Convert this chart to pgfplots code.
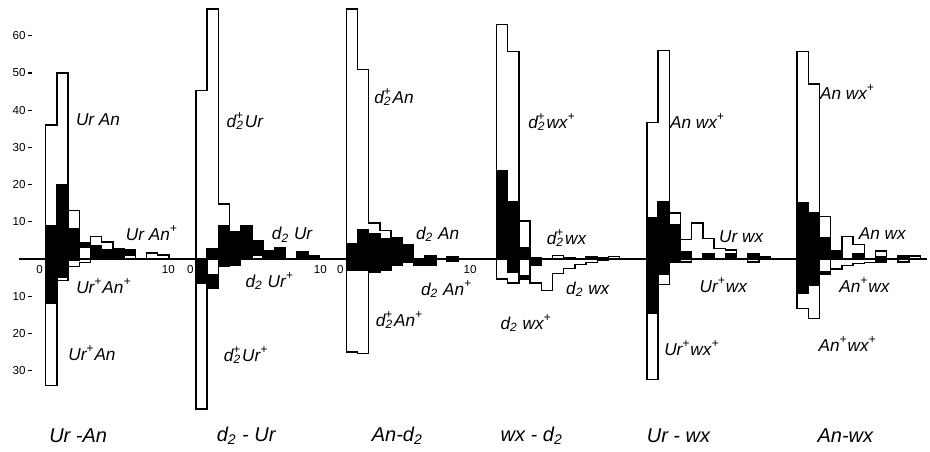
\documentclass[border=0pt]{standalone}
\usepackage{fontspec}
\setmainfont{Liberation Sans}
\usepackage{pgfplots}
\pgfplotsset{compat=1.18}
\newcommand\dplus{d\textsubscript{2}\llap{\textsuperscript{+}}\kern0.5pt}
\newcommand\dtwo{d\textsubscript{2}}
\newcommand\pl{\textsuperscript{+}}
\pgfplotsset{
  wh/.style={const plot, fill=white, draw=black, line width=0.7pt, mark=none, forget plot},
  bk/.style={const plot, fill=black, draw=black, line width=0.7pt, mark=none, forget plot},
}
\newcommand\hist[3]{\addplot[#1] table[x expr=\thisrow{b}+#2, y=h, row sep=\\]{#3}\closedcycle;}
\begin{document}
\begin{tikzpicture}
\begin{axis}[
  x=5.6pt, y=1.86pt,
  xmin=-1.22, xmax=78.96, ymin=-51.9, ymax=69.6,
  axis x line=middle, axis y line=left,
  axis line style={draw=none},
  clip=false,
  xtick={-0.55,10.95,12.92,24.52,26.3,37.89},
  xticklabels={0,10,0,10,0,10},
  xtick style={draw=none},
  ytick={-30,-20,-10,10,20,30,40,50,60},
  yticklabels={30,20,10,10,20,30,40,50,60},
  ytick style={black, line width=0.6pt},
  tick align=outside, major tick length=2pt,
  tick label style={font=\fontsize{5.8}{6}\selectfont},
  x tick label style={inner sep=1pt},
  y tick label style={inner sep=1pt},
  /pgf/number format/assume math mode=true,
]
% frame (bounding box) and baseline
\addplot[draw=none, mark=none, forget plot] coordinates {(-4.08,69.6) (78.96,-51.9)};
\addplot[black, line width=0.7pt, mark=none, forget plot] coordinates {(-2.4,0) (78.7,0)};

% ---------- Panel 1: Ur - An ----------
\hist{wh}{0}{b h\\ 0 36\\ 1 50\\ 2 13\\ 3 3\\ 4 6\\ 5 4.5\\ 6 2.7\\ 7 2.5\\ 8 0\\ 9 1.6\\ 10 1.1\\ 11 0\\}
\hist{wh}{0}{b h\\ 0 -34\\ 1 -5.8\\ 2 -2\\ 3 -0.9\\ 4 0\\}
\hist{bk}{0}{b h\\ 0 9\\ 1 20\\ 2 8\\ 3 4.3\\ 4 3.5\\ 5 2.5\\ 6 2.5\\ 7 2.5\\ 8 0\\}
\hist{bk}{0}{b h\\ 0 -12\\ 1 -4.9\\ 2 -0.5\\ 3 0\\}
\hist{wh}{0}{b h\\ 3 3.0\\ 4 0\\ 7 1.0\\ 8 0\\}

% ---------- Panel 2: d2 - Ur ----------
\hist{wh}{13.42}{b h\\ 0 45.3\\ 1 67.2\\ 2 14.8\\ 3 0\\}
\hist{wh}{13.42}{b h\\ 0 -40.3\\ 1 0\\}
\hist{bk}{13.42}{b h\\ 0 0\\ 1 2.7\\ 2 9.0\\ 3 7.2\\ 4 8.8\\ 5 4.9\\ 6 2.2\\ 7 2.9\\ 8 0\\ 9 2.0\\ 10 0.9\\ 11 0\\}
\hist{bk}{13.42}{b h\\ 0 -6.5\\ 1 -8\\ 2 -2\\ 3 -1.6\\ 4 0\\}
\hist{wh}{13.42}{b h\\ 5 0.9\\ 6 0\\}
\hist{wh}{13.42}{b h\\ 1 -4.3\\ 2 0\\}

% ---------- Panel 3: An - d2 ----------
\hist{wh}{26.84}{b h\\ 0 67.2\\ 1 50.9\\ 2 9.7\\ 3 7.6\\ 4 0\\}
\hist{wh}{26.84}{b h\\ 0 -25\\ 1 -25.5\\ 2 -3.6\\ 3 0\\}
\hist{bk}{26.84}{b h\\ 0 4\\ 1 7.9\\ 2 6.7\\ 3 5.5\\ 4 5.6\\ 5 3.8\\ 6 0\\ 7 0.9\\ 8 0\\ 9 0.7\\ 10 0\\}
\hist{bk}{26.84}{b h\\ 0 -3.1\\ 1 -3.1\\ 2 -3.6\\ 3 -3.1\\ 4 -1.8\\ 5 -0.9\\ 6 -1.8\\ 7 -1.8\\ 8 0\\ 9 -0.7\\ 10 0\\}

% ---------- Panel 4: wx - d2 ----------
\hist{wh}{40.26}{b h\\ 0 63\\ 1 55.8\\ 2 10.2\\ 3 0\\ 5 0.9\\ 6 0\\ 10 0.6\\ 11 0\\}
\hist{wh}{40.26}{b h\\ 0 -5.4\\ 1 -6.5\\ 2 -5.4\\ 3 -6.5\\ 4 -8.5\\ 5 -4\\ 6 -2.6\\ 7 -1.5\\ 8 -0.9\\ 9 -0.4\\ 10 0\\}
\hist{bk}{40.26}{b h\\ 0 23.6\\ 1 15.5\\ 2 3.1\\ 3 0.4\\ 4 0\\ 6 0.4\\ 7 0\\ 8 0.5\\ 9 0.3\\ 10 0\\}
\hist{bk}{40.26}{b h\\ 0 0\\ 1 -3.6\\ 2 -5.4\\ 3 -1.8\\ 4 0\\}
\hist{wh}{40.26}{b h\\ 2 -4.5\\ 3 0\\}

% ---------- Panel 5: Ur - wx ----------
\hist{wh}{53.68}{b h\\ 0 36.6\\ 1 56\\ 2 12.3\\ 3 5.2\\ 4 9.6\\ 5 5.5\\ 6 2.8\\ 7 2.4\\ 8 0\\ 9 1.0\\ 10 0.5\\ 11 0\\}
\hist{wh}{53.68}{b h\\ 0 -32.4\\ 1 -6.9\\ 2 -1\\ 3 -0.8\\ 4 0\\ 9 -0.8\\ 10 0\\}
\hist{bk}{53.68}{b h\\ 0 11\\ 1 15.5\\ 2 9.2\\ 3 2\\ 4 0\\ 5 1.3\\ 6 0\\ 7 1.4\\ 8 0\\ 9 1.5\\ 10 0\\}
\hist{bk}{53.68}{b h\\ 0 -14.5\\ 1 -4.2\\ 2 -1\\ 3 0\\}

% ---------- Panel 6: An - wx ----------
\hist{wh}{67.10}{b h\\ 0 55.7\\ 1 47\\ 2 11.4\\ 3 2.2\\ 4 6\\ 5 3.8\\ 6 0\\ 7 2.1\\ 8 0\\ 9 0.8\\ 10 0.8\\ 11 0\\}
\hist{wh}{67.10}{b h\\ 0 -13.3\\ 1 -16\\ 2 -4.2\\ 3 -2.7\\ 4 -1.8\\ 5 -1.3\\ 6 -0.9\\ 7 -0.4\\ 8 0\\ 9 -0.8\\ 10 0\\}
\hist{bk}{67.10}{b h\\ 0 15.1\\ 1 12.5\\ 2 5.6\\ 3 2.3\\ 4 0\\ 5 1.3\\ 6 0\\ 7 0.5\\ 8 0\\ 9 0.8\\ 10 0\\}
\hist{bk}{67.10}{b h\\ 0 -9.3\\ 1 -7\\ 2 -4.2\\ 3 0\\ 7 -0.8\\ 8 0\\}
\hist{wh}{67.10}{b h\\ 2 -3.4\\ 3 0\\}

% ---------- labels ----------
\begin{scope}[every node/.style={font=\fontsize{8.6}{10}\selectfont\itshape, inner sep=0pt}]
\node at (axis cs:4.67,37.4) {Ur An};
\node at (axis cs:9.49,7.0) {Ur An\pl};
\node at (axis cs:5.2,-7.3) {Ur\pl An\pl};
\node at (axis cs:4.13,-25.3) {Ur\pl An};
\node at (axis cs:17.79,37.1) {\dplus Ur};
\node at (axis cs:22.0,6.5) {\dtwo\ Ur};
\node at (axis cs:20.0,-5.9) {\dtwo\ Ur\pl};
\node at (axis cs:17.9,-25.8) {\dplus Ur\pl};
\node at (axis cs:31.1,43.5) {\dplus An};
\node at (axis cs:35.0,6.7) {\dtwo\ An};
\node at (axis cs:35.8,-8.1) {\dtwo\ An\pl};
\node at (axis cs:31.6,-16.5) {\dplus An\pl};
\node at (axis cs:45.2,36.8) {\dplus wx\pl};
\node at (axis cs:46.5,5.6) {\dplus wx};
\node at (axis cs:48.4,-8.1) {\dtwo\ wx};
\node at (axis cs:42.9,-17.2) {\dtwo\ wx\pl};
\node at (axis cs:58.2,37.0) {An wx\pl};
\node at (axis cs:62.1,6.1) {Ur wx};
\node at (axis cs:60.5,-7.1) {Ur\pl wx};
\node at (axis cs:57.7,-24.0) {Ur\pl wx\pl};
\node at (axis cs:71.6,44.8) {An wx\pl};
\node at (axis cs:74.7,6.9) {An wx};
\node at (axis cs:73.1,-7.0) {An\pl wx};
\node at (axis cs:71.6,-22.9) {An\pl wx\pl};
\end{scope}
\begin{scope}[every node/.style={font=\fontsize{10}{12}\selectfont\itshape, inner sep=0pt}]
\node at (axis cs:2.9,-47.6) {Ur -An};
\node at (axis cs:17.9,-47.6) {\dtwo\ - Ur};
\node at (axis cs:31.4,-47.6) {An-\dtwo};
\node at (axis cs:43.4,-47.6) {wx - \dtwo};
\node at (axis cs:56.5,-47.6) {Ur - wx};
\node at (axis cs:71.4,-47.6) {An-wx};
\end{scope}
\end{axis}
\end{tikzpicture}
\end{document}
